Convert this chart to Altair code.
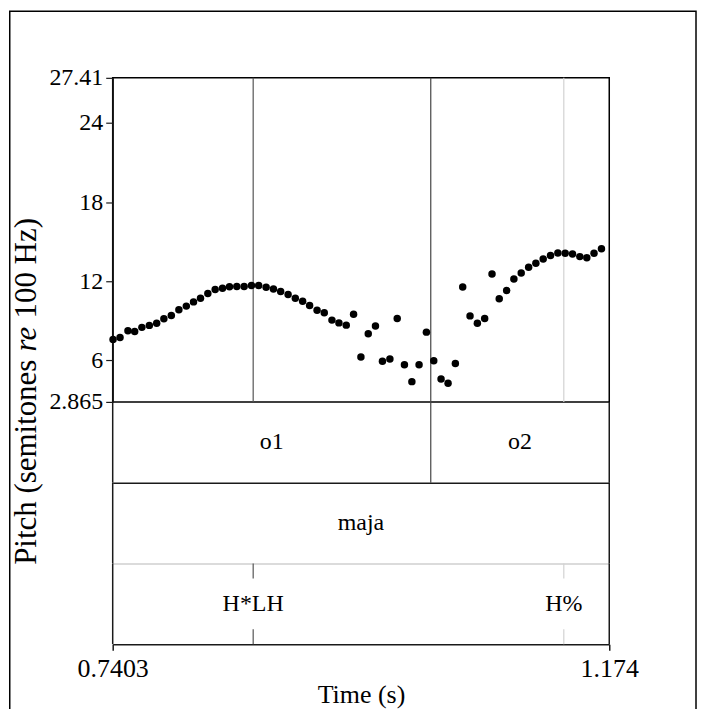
import altair as alt
import pandas as pd

# ---------------- data ----------------
T_START = 0.7403
T_END = 1.174
PITCH_MIN = 2.865
PITCH_MAX = 27.41
PITCH_TICKS = [2.865, 6, 12, 18, 24, 27.41]
TIME_TICKS = [0.7403, 1.174]

pitch_time = [0.7406, 0.7467, 0.7536, 0.7595, 0.7658, 0.7723, 0.7787, 0.7850, 0.7915, 0.7981,
              0.8046, 0.8109, 0.8170, 0.8234, 0.8298, 0.8362, 0.8423, 0.8487, 0.8551, 0.8615,
              0.8678, 0.8743, 0.8807, 0.8870, 0.8935, 0.8998, 0.9062, 0.9123, 0.9188, 0.9251,
              0.9318, 0.9379, 0.9443, 0.9507, 0.9571, 0.9635, 0.9698, 0.9759, 0.9824, 0.9888,
              0.9951, 1.0016, 1.0079, 1.0143, 1.0207, 1.0271, 1.0332, 1.0396, 1.0460, 1.0524,
              1.0588, 1.0652, 1.0716, 1.0779, 1.0844, 1.0907, 1.0971, 1.1036, 1.1099, 1.1163,
              1.1227, 1.1291, 1.1355, 1.1419, 1.1483, 1.1544, 1.1607, 1.1672]
pitch_st = [7.60, 7.75, 8.25, 8.20, 8.51, 8.66, 8.83, 9.16, 9.41, 9.84,
            10.12, 10.44, 10.72, 11.08, 11.38, 11.48, 11.59, 11.60, 11.60, 11.68,
            11.68, 11.55, 11.42, 11.23, 11.00, 10.72, 10.49, 10.17, 9.81, 9.61,
            9.06, 8.85, 8.68, 9.51, 6.26, 8.02, 8.61, 5.94, 6.11, 9.19,
            5.68, 4.40, 5.68, 8.15, 5.98, 4.60, 4.28, 5.77, 11.57, 9.38,
            8.83, 9.19, 12.56, 10.67, 11.30, 12.18, 12.63, 13.06, 13.36, 13.69,
            13.95, 14.14, 14.12, 14.07, 13.87, 13.79, 14.12, 14.47]

syllable_labels = ["o1", "o2"]
syllable_start = [0.7403, 1.0181]
syllable_end = [1.0181, 1.174]

word_labels = ["maja"]
word_start = [0.7403]
word_end = [1.174]

tone_labels = ["H*LH", "H%"]
tone_time = [0.8630, 1.1343]

# ---------------- styling ----------------
W = 498
H_PITCH = 325
H_TIER = 81
FONT = "Liberation Serif"
FS = 24
XFS = 26
TFS = 31
LINE = "#1a1a1a"
TONE_COLORS = ["#555555", "#d2d2d2"]

pitch_df = pd.DataFrame({"t": pitch_time, "st": pitch_st})
tone_df = pd.DataFrame({"t": tone_time, "label": tone_labels})
bound_df = pd.DataFrame({"t": syllable_start[1:]})
syl_df = pd.DataFrame({"label": syllable_labels, "start": syllable_start, "end": syllable_end})
word_df = pd.DataFrame({"label": word_labels, "start": word_start, "end": word_end})
sides_df = pd.DataFrame({"t": [T_START, T_END]})
one = alt.InlineData(values=[{"k": 0}])

x_scale = alt.Scale(domain=[T_START, T_END], nice=False, zero=False)
tone_color = alt.Color("label:N", scale=alt.Scale(domain=tone_labels, range=TONE_COLORS), legend=None)


def xenc(field, axis):
    return alt.X(f"{field}:Q", scale=x_scale, axis=axis)


# ---------------- pitch panel ----------------
hidden_axis = alt.Axis(domain=False, ticks=False, labels=False, grid=False, title="")

y_axis = alt.Axis(values=PITCH_TICKS, labelExpr="'' + datum.value", tickSize=7, tickColor=LINE,
                  tickWidth=1.2, domainColor=LINE, domainWidth=1.5, labelFont=FONT,
                  labelFontSize=FS, labelColor="black", labelPadding=3, grid=False, title="",
                  labelOverlap=False)
y_scale = alt.Scale(domain=[PITCH_MIN, PITCH_MAX], nice=False, zero=False)

# outer picture frame (decoration, kept inside the 690px wide page area)
frame = alt.Chart(one).mark_rect(fillOpacity=0, stroke="black", strokeWidth=1.5).encode(
    x=alt.value(-103.25), x2=alt.value(585), y=alt.value(-66.75), y2=alt.value(650))

TX = -86
RE_Y = 262
GAP = 7.75
RE_HALF = 12.9
ttl_a = alt.Chart(one).mark_text(angle=270, align="right", baseline="middle", font=FONT,
                                 fontSize=TFS, color="black", text="Pitch (semitones").encode(
    x=alt.value(TX), y=alt.value(RE_Y + RE_HALF + GAP))
ttl_b = alt.Chart(one).mark_text(angle=270, align="center", baseline="middle", font=FONT,
                                 fontSize=TFS, fontStyle="italic", color="black", text="re").encode(
    x=alt.value(TX), y=alt.value(RE_Y))
ttl_c = alt.Chart(one).mark_text(angle=270, align="left", baseline="middle", font=FONT,
                                 fontSize=TFS, color="black", text="100 Hz)").encode(
    x=alt.value(TX), y=alt.value(RE_Y - RE_HALF - GAP))

bound_lines = alt.Chart(bound_df).mark_rule(color="#444444", strokeWidth=1.2).encode(
    x=xenc("t", hidden_axis))
tone_lines = alt.Chart(tone_df).mark_rule(strokeWidth=1.2).encode(
    x=xenc("t", hidden_axis), color=tone_color)
points = alt.Chart(pitch_df).mark_circle(size=56, color="black", opacity=1).encode(
    x=xenc("t", hidden_axis), y=alt.Y("st:Q", scale=y_scale, axis=y_axis))

pitch = alt.layer(frame, ttl_a, ttl_b, ttl_c, bound_lines, tone_lines, points).properties(
    width=W, height=H_PITCH,
    view=alt.ViewBackground(stroke="black", strokeWidth=1.5))


# ---------------- tiers ----------------
def tier_axis(color):
    return alt.Axis(domain=True, domainColor=color, domainWidth=1.5, ticks=False, labels=False,
                    grid=False, title="")


def sides(axis):
    return alt.Chart(sides_df).mark_rule(color=LINE, strokeWidth=1.5).encode(x=xenc("t", axis))


def interval_text(df, axis):
    return alt.Chart(df).transform_calculate(mid="(datum.start + datum.end) / 2").mark_text(
        font=FONT, fontSize=FS, color="black", baseline="middle").encode(
        x=xenc("mid", axis), y=alt.value(H_TIER / 2), text="label:N")


ax1 = tier_axis(LINE)
tier1 = alt.layer(
    sides(ax1),
    alt.Chart(bound_df).mark_rule(color="#444444", strokeWidth=1.2).encode(x=xenc("t", ax1)),
    interval_text(syl_df, ax1),
).properties(width=W, height=H_TIER, view=alt.ViewBackground(stroke="transparent"))

ax2 = tier_axis("#cfcfcf")
tier2 = alt.layer(
    sides(ax2),
    interval_text(word_df, ax2),
).properties(width=W, height=H_TIER, view=alt.ViewBackground(stroke="transparent"))

ax3 = alt.Axis(values=TIME_TICKS, labelExpr="'' + datum.value", tickSize=6, tickColor=LINE,
               tickWidth=1.5, domainColor=LINE, domainWidth=1.5, labelFont=FONT,
               labelFontSize=XFS, labelColor="black", labelPadding=5, labelFlush=False,
               grid=False, title="Time (s)", titleFont=FONT, titleFontSize=XFS,
               titleFontWeight="normal", titleColor="black", titlePadding=0)
tier3 = alt.layer(
    sides(ax3),
    alt.Chart(tone_df).mark_rule(strokeWidth=1.2).encode(
        x=xenc("t", ax3), y=alt.value(0), y2=alt.value(15), color=tone_color),
    alt.Chart(tone_df).mark_rule(strokeWidth=1.2).encode(
        x=xenc("t", ax3), y=alt.value(H_TIER - 15), y2=alt.value(H_TIER), color=tone_color),
    alt.Chart(tone_df).mark_text(font=FONT, fontSize=FS, color="black", baseline="middle").encode(
        x=xenc("t", ax3), y=alt.value(H_TIER / 2), text="label:N"),
).properties(width=W, height=H_TIER, view=alt.ViewBackground(stroke="transparent"))

chart = alt.vconcat(pitch, tier1, tier2, tier3, spacing=0, bounds="flush").properties(
    padding=0, background="white")

chart.save("out.html", embed_options={"renderer": "svg", "actions": False})
